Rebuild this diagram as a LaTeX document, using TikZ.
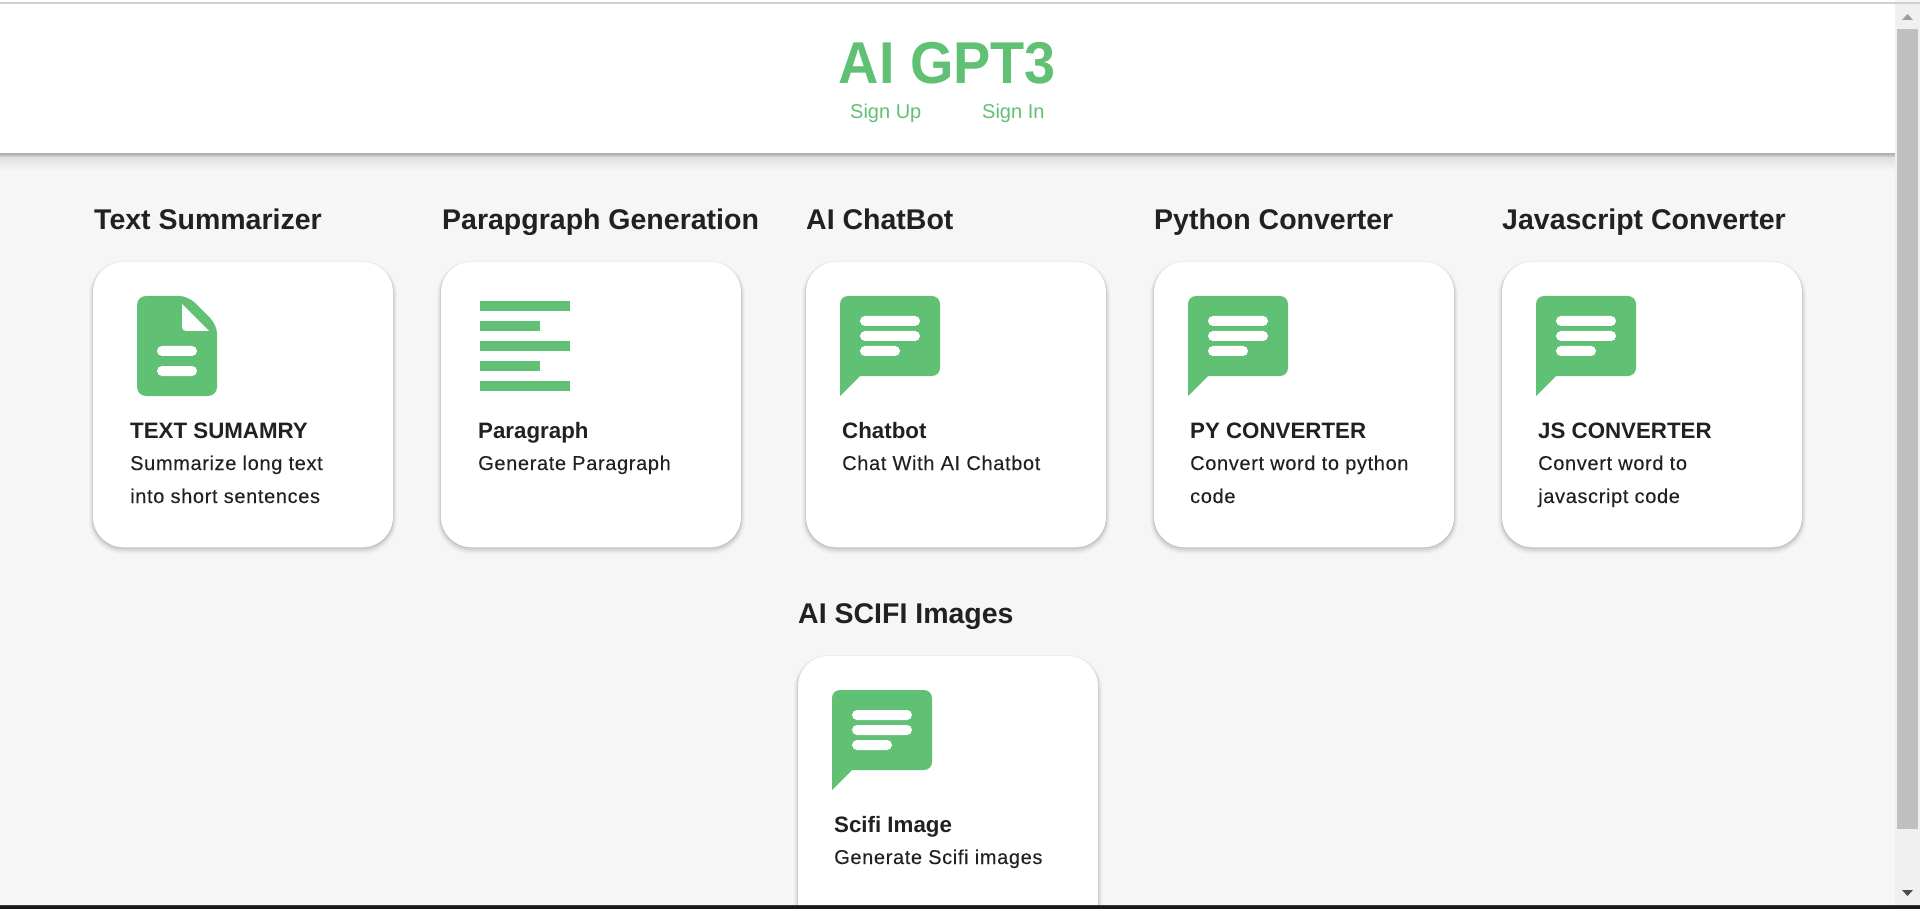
\documentclass[tikz,border=0pt]{standalone}
\usepackage{fontspec}
\setmainfont{Liberation Sans}
\newfontfamily\brandfont[FakeStretch=0.946]{Liberation Sans}
\newfontfamily\descfont[LetterSpace=3.2,FakeBold=0.1]{Liberation Sans}
\definecolor{brandgreen}{HTML}{60C073}
\definecolor{inkdark}{HTML}{212121}
\definecolor{pagegray}{HTML}{F6F6F6}
\tikzset{
    cardbox/.style={rectangle, fill=white, rounded corners=30pt, minimum width=300pt, minimum height=285pt, inner sep=0pt,
        preaction={draw=black, draw opacity=.03, line width=8pt, transform canvas={yshift=-3pt}},
        preaction={draw=black, draw opacity=.04, line width=5pt, transform canvas={yshift=-2.5pt}},
        preaction={draw=black, draw opacity=.06, line width=3pt, transform canvas={yshift=-2pt}},
        preaction={draw=black, draw opacity=.10, line width=1pt, transform canvas={yshift=-1pt}}},
    headtext/.style={anchor=base west, inner sep=0pt, text=inkdark, font=\fontsize{28.5}{30}\selectfont\bfseries},
    titletext/.style={anchor=base west, inner sep=0pt, text=inkdark, font=\fontsize{22.3}{24}\selectfont\bfseries},
    desctext/.style={anchor=base west, inner sep=0pt, text=inkdark, font=\descfont\fontsize{20}{22}\selectfont},
    linktext/.style={anchor=base west, inner sep=0pt, text=brandgreen, font=\fontsize{20}{22}\selectfont},
    chaticon/.pic={
        \fill[brandgreen] (0,100) [rounded corners=8pt] -- (0,0) -- (100,0) -- (100,80) [sharp corners] -- (20,80) -- cycle;
        \fill[white, rounded corners=5pt] (20,20) rectangle (80,30);
        \fill[white, rounded corners=5pt] (20,35) rectangle (80,45);
        \fill[white, rounded corners=5pt] (20,50) rectangle (60,60);
    }
}
\begin{document}
\begin{tikzpicture}[x=1pt, y=-1pt]
    \useasboundingbox (0,0) rectangle (1920,909);
    \fill[pagegray] (0,0) rectangle (1920,909);
    % header
    \shade[top color=black!33, bottom color=black!12] (0,153) rectangle (1895,158);
    \shade[top color=black!12, bottom color=pagegray] (0,158) rectangle (1895,170);
    \fill[white] (0,0) rectangle (1895,153);
    \fill[black!19] (0,2) rectangle (1920,4);
    \node[anchor=base, inner sep=0pt, text=brandgreen, font=\brandfont\fontsize{59}{60}\selectfont\bfseries] (brand) at (947.5,84) {AI GPT3};
    \node[linktext] (signup) at (850,119) {Sign Up};
    \node[linktext] (signin) at (982,119) {Sign In};
    % first row
    \node[headtext] (head1) at (94,230) {Text Summarizer};
    \node[headtext] (head2) at (442,230) {Parapgraph Generation};
    \node[headtext] (head3) at (806,230) {AI ChatBot};
    \node[headtext] (head4) at (1154,230) {Python Converter};
    \node[headtext] (head5) at (1502,230) {Javascript Converter};
    \node[cardbox] (card1) at (243,404.5) {};
    \node[cardbox] (card2) at (591,404.5) {};
    \node[cardbox] (card3) at (956,404.5) {};
    \node[cardbox] (card4) at (1304,404.5) {};
    \node[cardbox] (card5) at (1652,404.5) {};
    % file icon
    \fill[brandgreen, rounded corners=9pt] (137,296) -- (188,296) -- (217,325) -- (217,396) -- (137,396) -- cycle;
    \fill[white] (182,304) -- (209,331) [rounded corners=4pt] -- (182,331) [sharp corners] -- cycle;
    \fill[white, rounded corners=5pt] (157,346) rectangle (197,356);
    \fill[white, rounded corners=5pt] (157,366) rectangle (197,376);
    % paragraph icon
    \fill[brandgreen] (480,301) rectangle (570,311);
    \fill[brandgreen] (480,321) rectangle (540,331);
    \fill[brandgreen] (480,341) rectangle (570,351);
    \fill[brandgreen] (480,361) rectangle (540,371);
    \fill[brandgreen] (480,381) rectangle (570,391);
    \pic (chat3) at (840,296) {chaticon};
    \pic (chat4) at (1188,296) {chaticon};
    \pic (chat5) at (1536,296) {chaticon};
    \node[titletext] (title1) at (130,438) {TEXT SUMAMRY};
    \node[desctext] (desc1a) at (130,470) {Summarize long text};
    \node[desctext] (desc1b) at (130,503) {into short sentences};
    \node[titletext] (title2) at (478,438) {Paragraph};
    \node[desctext] (desc2a) at (478,470) {Generate Paragraph};
    \node[titletext] (title3) at (842,438) {Chatbot};
    \node[desctext] (desc3a) at (842,470) {Chat With AI Chatbot};
    \node[titletext] (title4) at (1190,438) {PY CONVERTER};
    \node[desctext] (desc4a) at (1190,470) {Convert word to python};
    \node[desctext] (desc4b) at (1190,503) {code};
    \node[titletext] (title5) at (1538,438) {JS CONVERTER};
    \node[desctext] (desc5a) at (1538,470) {Convert word to};
    \node[desctext] (desc5b) at (1538,503) {javascript code};
    % second row
    \node[headtext] (head6) at (798,623) {AI SCIFI Images};
    \node[cardbox] (card6) at (948,798.5) {};
    \pic (chat6) at (832,690) {chaticon};
    \node[titletext] (title6) at (834,832) {Scifi Image};
    \node[desctext] (desc6a) at (834,864) {Generate Scifi images};
    % scrollbar
    \fill[black!6] (1895,4) rectangle (1920,905);
    \fill[black!25] (1897,29) rectangle (1918,829);
    \fill[black!38] (1902,20) -- (1913,20) -- (1907.5,14) -- cycle;
    \fill[black!70] (1902,890) -- (1913,890) -- (1907.5,896) -- cycle;
    % window edge
    \fill[black!77] (0,905) rectangle (1920,906);
    \fill[black!90] (0,906) rectangle (1920,909);
\end{tikzpicture}
\end{document}
